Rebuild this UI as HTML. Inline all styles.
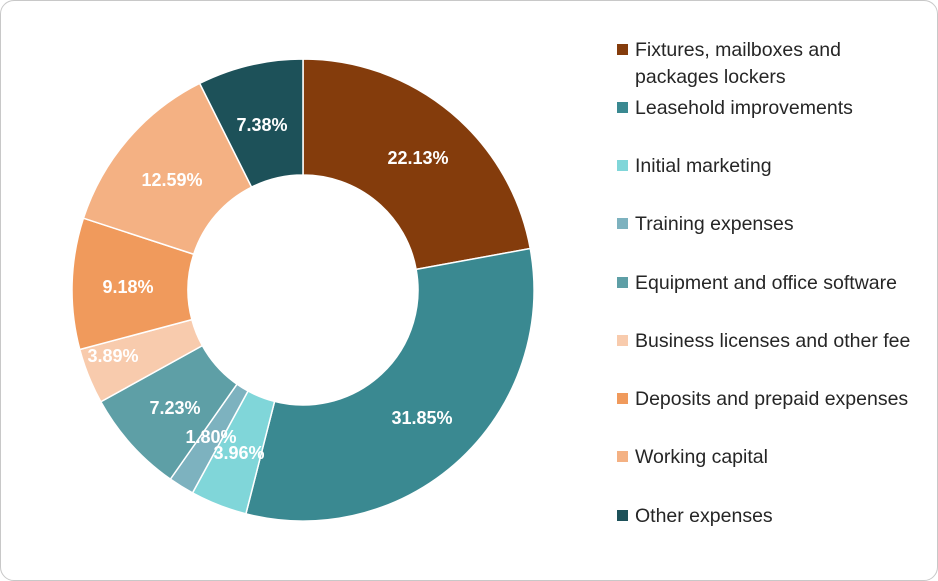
<!DOCTYPE html>
<html><head><meta charset="utf-8"><style>
body{margin:0;background:#fff;}
#c{position:absolute;left:0;top:0;width:936px;height:579px;border:1px solid #c8c8c8;border-radius:14px;background:#fff;}
.lg{position:absolute;left:617px;font:19.5px "Liberation Sans",sans-serif;color:#262626;}
.lg i{position:absolute;left:0;top:7px;width:11px;height:11px;}
.lg span{position:absolute;left:18px;top:0;white-space:nowrap;line-height:27px;}
</style></head><body>
<div id="c"></div>
<svg id="s" width="938" height="581" style="position:absolute;left:0;top:0"></svg>
<div id="L"></div>
<script>
var d=[22.13,31.85,3.96,1.80,7.23,3.89,9.18,12.59,7.38];
var col=["#843C0C","#3A8991","#80D6D9","#7DB2BF","#5E9FA6","#F8CBAD","#F09A5C","#F4B183","#1D5159"];
var names=["Fixtures, mailboxes and<br>packages lockers","Leasehold improvements","Initial marketing","Training expenses","Equipment and office software","Business licenses and other fee","Deposits and prepaid expenses","Working capital","Other expenses"];
var lp=[[418,158],[422,418],[239,453],[211,437],[175,408],[113,356],[128,287],[172,180],[262,125]];
var cx=303,cy=290,R=231,r=115,tot=d.reduce((a,b)=>a+b),a=0,h="";
function p(rr,an){return [cx+rr*Math.sin(an),cy-rr*Math.cos(an)];}
d.forEach(function(v,i){var a2=a+v/tot*2*Math.PI,lg=(a2-a)>Math.PI?1:0;
var p1=p(R,a),p2=p(R,a2),p3=p(r,a2),p4=p(r,a);
h+='<path d="M'+p1+'A'+R+','+R+' 0 '+lg+' 1 '+p2+'L'+p3+'A'+r+','+r+' 0 '+lg+' 0 '+p4+'Z" fill="'+col[i]+'" stroke="#fff" stroke-width="1.5"/>';a=a2;});
d.forEach(function(v,i){h+='<text x="'+lp[i][0]+'" y="'+(lp[i][1]+6)+'" text-anchor="middle" font-family="Liberation Sans,sans-serif" font-weight="bold" font-size="18" fill="#fff">'+v.toFixed(2)+'%</text>';});
document.getElementById('s').innerHTML=h;
var ys=[37,95,153,211,270,328,386,444,503],lh="";
names.forEach(function(n,i){lh+='<div class="lg" style="top:'+ys[i]+'px"><i style="background:'+col[i]+'"></i><span>'+n+'</span></div>';});
document.getElementById('L').innerHTML=lh;
</script>
</body></html>
